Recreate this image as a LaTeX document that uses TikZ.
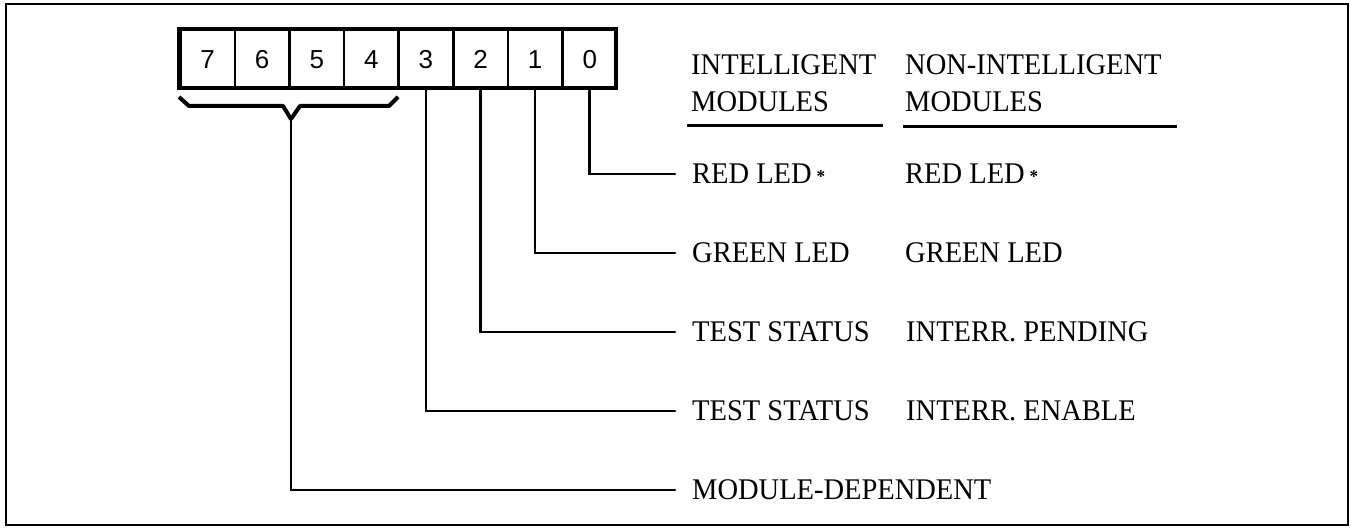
\documentclass[tikz,border=0pt]{standalone}
\usepackage{fontspec}
\setmainfont{Liberation Serif}[FakeStretch=0.95]
\newfontfamily\digitfont{Liberation Sans}
\newcommand{\smallstar}{\raisebox{1.5pt}{\fontsize{18}{18}\selectfont\bfseries *}}
\begin{document}
\begin{tikzpicture}[x=1pt,y=-1pt,
  cell/.style={draw,line width=2.5pt,minimum width=54.6pt,minimum height=59pt,inner sep=0pt,
    font=\digitfont\fontsize{26}{26}\selectfont,anchor=north west},
  lab/.style={inner sep=0pt,anchor=west,text height=19.8pt,text depth=0pt,
    font=\fontsize{30}{32}\selectfont},
  head/.style={inner sep=0pt,anchor=base west,font=\fontsize{30}{32}\selectfont},
  conn/.style={line width=2.6pt,line cap=round,line join=miter},
  rule/.style={line width=3pt}]
\useasboundingbox (0,0) rectangle (1351,529);
\draw[line width=2.5pt] (6,4) rectangle (1348,525);
% register cells
\foreach \i/\d in {0/7,1/6,2/5,3/4,4/3,5/2,6/1,7/0}{
  \node[cell] (b\d) at ({179+54.6*\i},29) {\d};
}
\draw[line width=4pt] (179,29) rectangle (616,88);
% brace
\draw[line width=4pt,line join=round] (179,97) -- (189,106) -- (283,106) -- (291,119) -- (300,106) -- (389,106) -- (398,97);
\coordinate (brtip) at (291,118);
% headers
\node[head] (h1a) at (691,75) {INTELLIGENT};
\node[head] (h1b) at (691,112) {MODULES};
\node[head] (h2a) at (905,75) {NON-INTELLIGENT};
\node[head] (h2b) at (905,112) {MODULES};
\draw[rule] (687,126) -- (883,126);
\draw[rule] (903,127) -- (1177,127);
% labels column 1
\node[lab] (l0) at (692,174) {RED LED\,\smallstar};
\node[lab] (l1) at (692,253) {GREEN LED};
\node[lab] (l2) at (692,332) {TEST STATUS};
\node[lab] (l3) at (692,411) {TEST STATUS};
\node[lab] (l4) at (692,490) {MODULE-DEPENDENT};
% labels column 2
\node[lab] (m0) at (905,174) {RED LED\,\smallstar};
\node[lab] (m1) at (905,253) {GREEN LED};
\node[lab] (m2) at (906,332) {INTERR. PENDING};
\node[lab] (m3) at (906,411) {INTERR. ENABLE};
% connectors
\draw[conn] (b0.south) |- ([xshift=-17pt]l0.west);
\draw[conn] (b1.south) |- ([xshift=-17pt]l1.west);
\draw[conn] (b2.south) |- ([xshift=-17pt]l2.west);
\draw[conn] (b3.south) |- ([xshift=-17pt]l3.west);
\draw[conn] (brtip) |- ([xshift=-17pt]l4.west);
\end{tikzpicture}
\end{document}
